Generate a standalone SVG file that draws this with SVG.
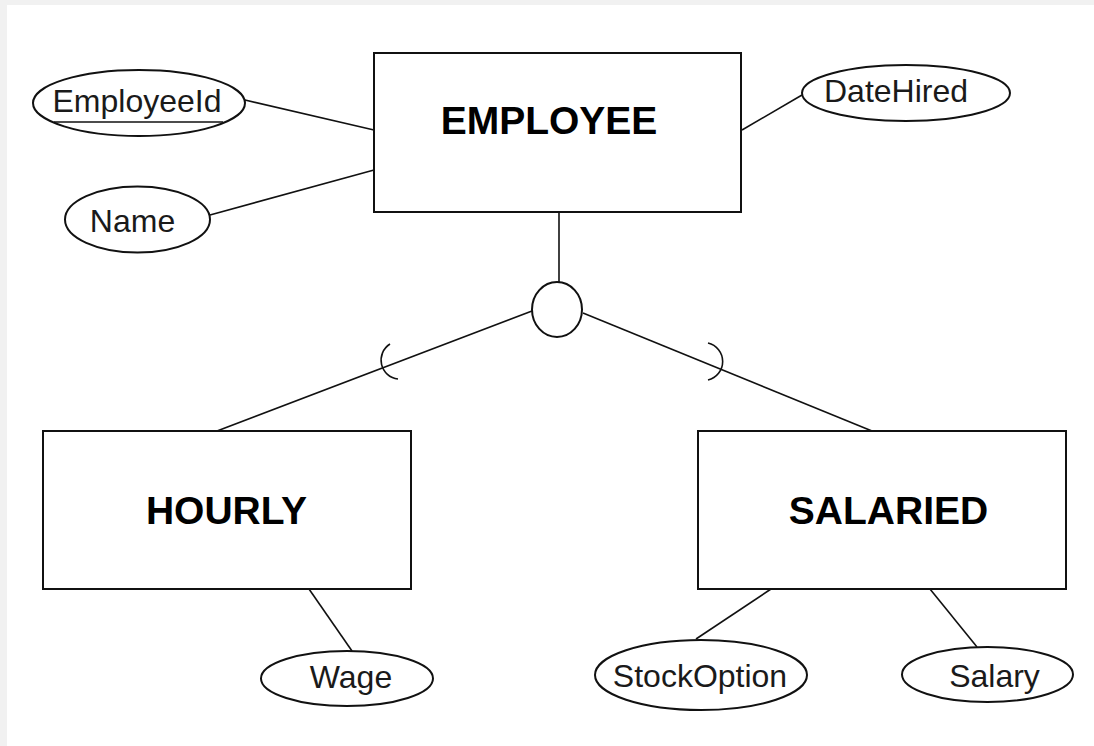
<svg xmlns="http://www.w3.org/2000/svg" width="1094" height="746" viewBox="0 0 1094 746">
<style>
.ent{fill:#fff;stroke:#111;stroke-width:2}
.att{fill:#fff;stroke:#111;stroke-width:2}
.lbl{font-family:"Liberation Sans",Arial,sans-serif;font-size:32px;fill:#1a1a1a;text-anchor:middle}
.ttl{font-family:"Liberation Sans",Arial,sans-serif;font-size:39px;font-weight:bold;fill:#000;text-anchor:middle}
.ln{stroke:#111;stroke-width:1.6;fill:none}
</style>
<rect x="0" y="0" width="1094" height="746" fill="#f1f1f1"/>
<rect x="7" y="5" width="1087" height="741" fill="#fff"/>
<g id="connectors">
<line class="ln" x1="245" y1="100" x2="374" y2="130"/>
<line class="ln" x1="210" y1="215" x2="374" y2="170"/>
<line class="ln" x1="742" y1="130" x2="802" y2="95"/>
<line class="ln" x1="559" y1="212" x2="559" y2="282"/>
<line class="ln" x1="532" y1="311" x2="217" y2="431"/>
<line class="ln" x1="583" y1="313" x2="872" y2="431"/>
<path class="ln" d="M 390 344 A 19 19 0 0 0 398 379"/>
<path class="ln" d="M 708 343 A 19 19 0 0 1 708 380"/>
<line class="ln" x1="309" y1="589" x2="352" y2="651"/>
<line class="ln" x1="771" y1="589" x2="696" y2="639"/>
<line class="ln" x1="930" y1="589" x2="977" y2="647"/>
</g>
<g id="employee">
<rect class="ent" x="374" y="53" width="367" height="159"/>
<text class="ttl" x="549" y="134">EMPLOYEE</text>
</g>
<g id="hourly">
<rect class="ent" x="43" y="431" width="368" height="158"/>
<text class="ttl" x="226.5" y="524">HOURLY</text>
</g>
<g id="salaried">
<rect class="ent" x="698" y="431" width="368" height="158"/>
<text class="ttl" x="888.5" y="524">SALARIED</text>
</g>
<g id="disjoint">
<ellipse class="att" cx="557" cy="309.5" rx="25" ry="27.5"/>
</g>
<g id="employeeid">
<ellipse class="att" cx="139" cy="103" rx="106" ry="33"/>
<text class="lbl" x="137" y="112">EmployeeId</text>
<line class="ln" x1="54" y1="122" x2="223" y2="122"/>
</g>
<g id="name">
<ellipse class="att" cx="137.5" cy="219.5" rx="72.5" ry="33"/>
<text class="lbl" x="132.5" y="232">Name</text>
</g>
<g id="datehired">
<ellipse class="att" cx="906" cy="93" rx="104" ry="28"/>
<text class="lbl" x="896" y="102">DateHired</text>
</g>
<g id="wage">
<ellipse class="att" cx="347" cy="678.5" rx="86" ry="27.5"/>
<text class="lbl" x="351" y="688">Wage</text>
</g>
<g id="stockoption">
<ellipse class="att" cx="701" cy="675" rx="106" ry="35"/>
<text class="lbl" x="700" y="687">StockOption</text>
</g>
<g id="salary">
<ellipse class="att" cx="987.5" cy="674.5" rx="85.5" ry="27.5"/>
<text class="lbl" x="994.5" y="687">Salary</text>
</g>
</svg>
